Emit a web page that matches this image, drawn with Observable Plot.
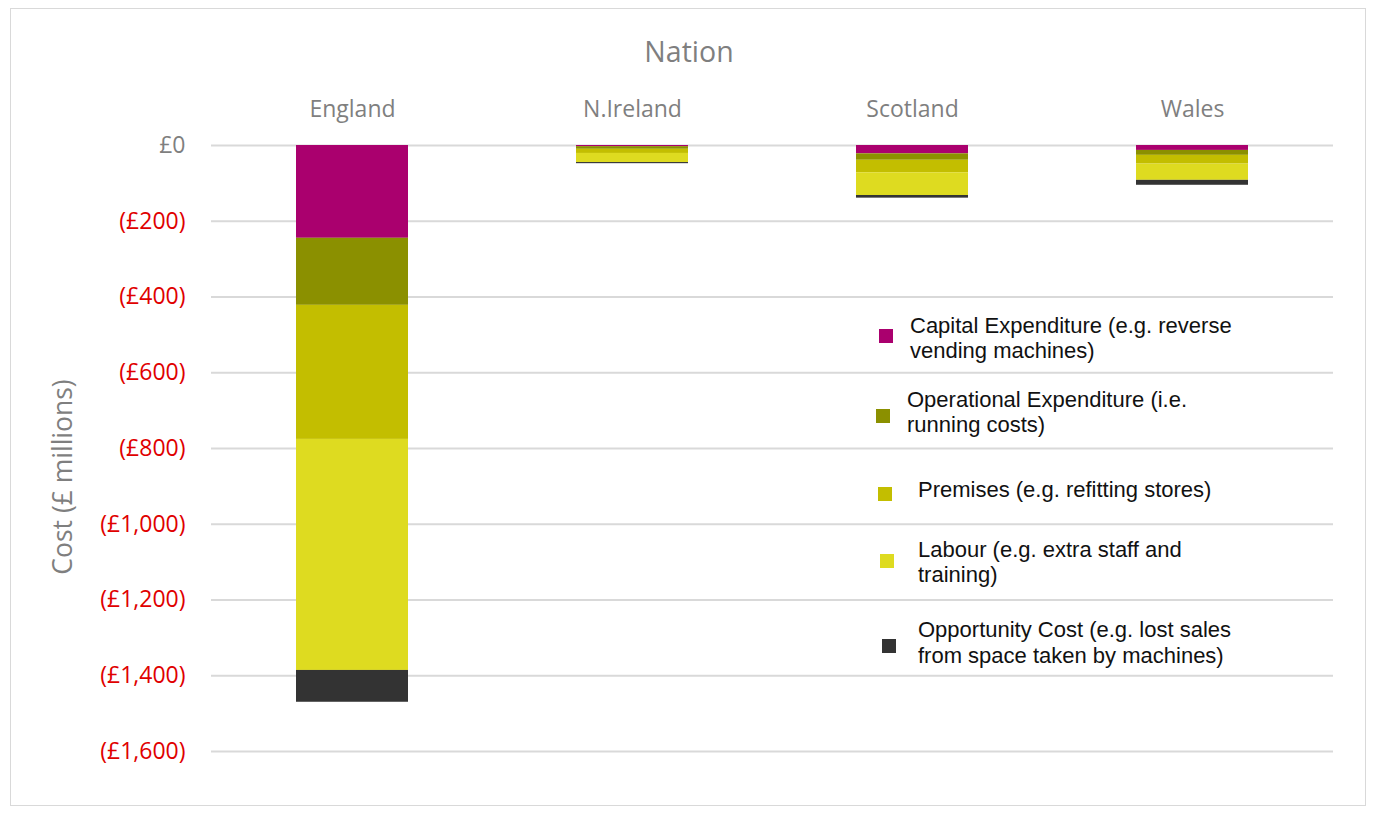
<!DOCTYPE html>
<html><head><meta charset="utf-8">
<script src="https://cdn.jsdelivr.net/npm/d3@7"></script>
<script src="https://cdn.jsdelivr.net/npm/@observablehq/plot@0.6"></script>
<style>
body{margin:0;background:#fff;}
#wrap{position:relative;width:1379px;height:818px;overflow:hidden;background:#fff;}
#frame{position:absolute;left:10px;top:8px;width:1356px;height:798px;border:1.5px solid #d9d9d9;box-sizing:border-box;}
#chart{position:absolute;left:0;top:0;}
.ttl{position:absolute;font-family:"Open Sans";color:#7f7f7f;text-align:center;white-space:nowrap;}
.leg{position:absolute;font-family:"Liberation Sans",Arial,sans-serif;font-size:22px;color:#111;line-height:25px;white-space:nowrap;}
.sw{position:absolute;width:14px;height:14px;}
</style></head><body>
<div id="wrap"><div id="frame"></div><div id="chart"></div></div>
<script>
// ---- data ----
const nations = ["England", "N.Ireland", "Scotland", "Wales"];
const seriesNames = ["Capital Expenditure", "Operational Expenditure", "Premises", "Labour", "Opportunity Cost"];
const capital     = [-245, -3, -22, -13];
const operational = [-177, -7, -17, -13];
const premises    = [-354, -11, -33, -23];
const labour      = [-610, -24, -60, -43];
const opportunity = [-84, -3, -7, -13];
const yTicks = [0, -200, -400, -600, -800, -1000, -1200, -1400, -1600];
const legendLabels = [
  ["Capital Expenditure (e.g. reverse", "vending machines)"],
  ["Operational Expenditure (i.e.", "running costs)"],
  ["Premises (e.g. refitting stores)"],
  ["Labour (e.g. extra staff and", "training)"],
  ["Opportunity Cost (e.g. lost sales", "from space taken by machines)"]
];
const titleText = "Nation";
const yLabelText = "Cost (£ millions)";

// ---- styles ----
const colors = ["#aa006e", "#8b9000", "#c3be00", "#dedb20", "#333333"];
const seriesValues = [capital, operational, premises, labour, opportunity];
const rows = [];
seriesNames.forEach((s, i) => nations.forEach((n, j) => rows.push({nation: n, series: s, value: seriesValues[i][j]})));

const fmt = d => d === 0 ? "£0" : "(£" + d3.format(",")(-d) + ")";

const chart = Plot.plot({
  width: 1379, height: 818,
  marginLeft: 211, marginRight: 46, marginTop: 145, marginBottom: 67,
  style: {fontFamily: "Open Sans", fontSize: "23px", background: "transparent"},
  x: {domain: nations, paddingInner: 0.6, paddingOuter: 0.3, axis: null},
  y: {domain: [-1600, 0], axis: null},
  color: {domain: seriesNames, range: colors},
  marks: [
    Plot.gridY(yTicks, {stroke: "#d9d9d9", strokeOpacity: 1, strokeWidth: 2}),
    Plot.barY(rows, Plot.stackY({order: null}, {x: "nation", y: "value", fill: "series"})),
    Plot.axisX({anchor: "top", tickSize: 0, tickPadding: 29, fill: "#7f7f7f", fontSize: 23, label: null}),
    Plot.axisY(yTicks.filter(d => d === 0), {anchor: "left", tickSize: 0, tickPadding: 26, tickFormat: fmt, fill: "#7f7f7f", fontSize: 23, label: null}),
    Plot.axisY(yTicks.filter(d => d < 0), {anchor: "left", tickSize: 0, tickPadding: 26, tickFormat: fmt, fill: "#e00000", fontSize: 23, label: null})
  ]
});
document.getElementById("chart").appendChild(chart);

const wrap = document.getElementById("wrap");
// title
const t = document.createElement("div");
t.className = "ttl";
t.textContent = titleText;
Object.assign(t.style, {left: "539px", top: "36px", width: "300px", fontSize: "28.5px", lineHeight: "30px"});
wrap.appendChild(t);
// y label
const yl = document.createElement("div");
yl.className = "ttl";
yl.textContent = yLabelText;
Object.assign(yl.style, {left: "-88px", top: "462px", width: "300px", fontSize: "26.5px", lineHeight: "30px", transform: "rotate(-90deg)"});
wrap.appendChild(yl);

// legend layout
const legLayout = [
  {sx: 879, sy: 329, tx: 910, tops: [313, 338]},
  {sx: 876, sy: 409, tx: 907, tops: [387, 412]},
  {sx: 878, sy: 487, tx: 918, tops: [477]},
  {sx: 880, sy: 554, tx: 918, tops: [537, 562]},
  {sx: 882, sy: 639, tx: 918, tops: [617, 643]}
];
legendLabels.forEach((lines, i) => {
  const L = legLayout[i];
  const sw = document.createElement("div");
  sw.className = "sw";
  Object.assign(sw.style, {left: L.sx + "px", top: L.sy + "px", background: colors[i]});
  wrap.appendChild(sw);
  lines.forEach((ln, k) => {
    const d = document.createElement("div");
    d.className = "leg";
    d.textContent = ln;
    Object.assign(d.style, {left: L.tx + "px", top: L.tops[k] + "px"});
    wrap.appendChild(d);
  });
});
</script>
</body></html>
